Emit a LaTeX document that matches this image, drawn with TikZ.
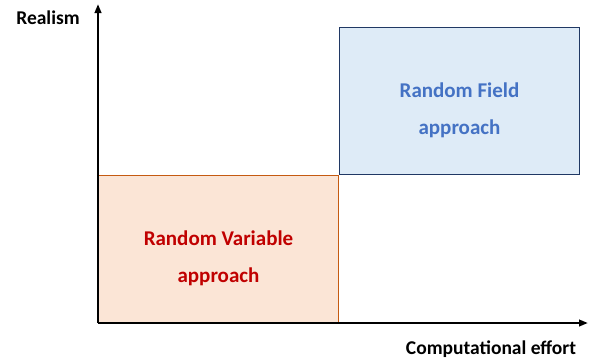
\documentclass[tikz,border=0pt]{standalone}
\usepackage{fontspec}
\setmainfont{Carlito}
\usetikzlibrary{arrows.meta}
\definecolor{VarFill}{RGB}{251,229,214}
\definecolor{VarLine}{RGB}{197,90,17}
\definecolor{VarText}{RGB}{192,0,0}
\definecolor{FieldFill}{RGB}{222,235,247}
\definecolor{FieldLine}{RGB}{32,56,100}
\definecolor{FieldText}{RGB}{68,114,196}

\begin{document}
\begin{tikzpicture}[x=1pt,y=-1pt,
  approach/.style 2 args={draw=#1,fill=#2,line width=1pt,
    minimum width=240pt,minimum height=147pt,anchor=south west},
  boxtext/.style={text=#1,align=center,
    font=\fontsize{21pt}{37pt}\selectfont\bfseries},
  axis/.style={line width=2.5pt,-{Triangle[length=9pt,width=6.5pt]}},
  axislabel/.style={font=\fontsize{19.5pt}{22pt}\selectfont\bfseries}]
\useasboundingbox (0,0) rectangle (591,362);
\coordinate (o) at (98,323);
\coordinate (ytop) at (98,4);
\coordinate (xend) at (588,323);
\node[approach={VarLine}{VarFill}] (rv) at (o) {};
\node[approach={FieldLine}{FieldFill}] (rf) at (rv.north east) {};
\node[boxtext=VarText] (rvtext) at ([yshift=-9pt]rv.center)
   {Random Variable\\approach};
\node[boxtext=FieldText] (rftext) at ([yshift=-9pt]rf.center)
   {Random Field\\approach};
\draw[axis] (o) -- (ytop);
\draw[axis] (o) -- (xend);
\node[axislabel] (realism) at (48,18) {Realism};
\node[axislabel] (effort) at (491,349) {Computational effort};
\end{tikzpicture}
\end{document}
